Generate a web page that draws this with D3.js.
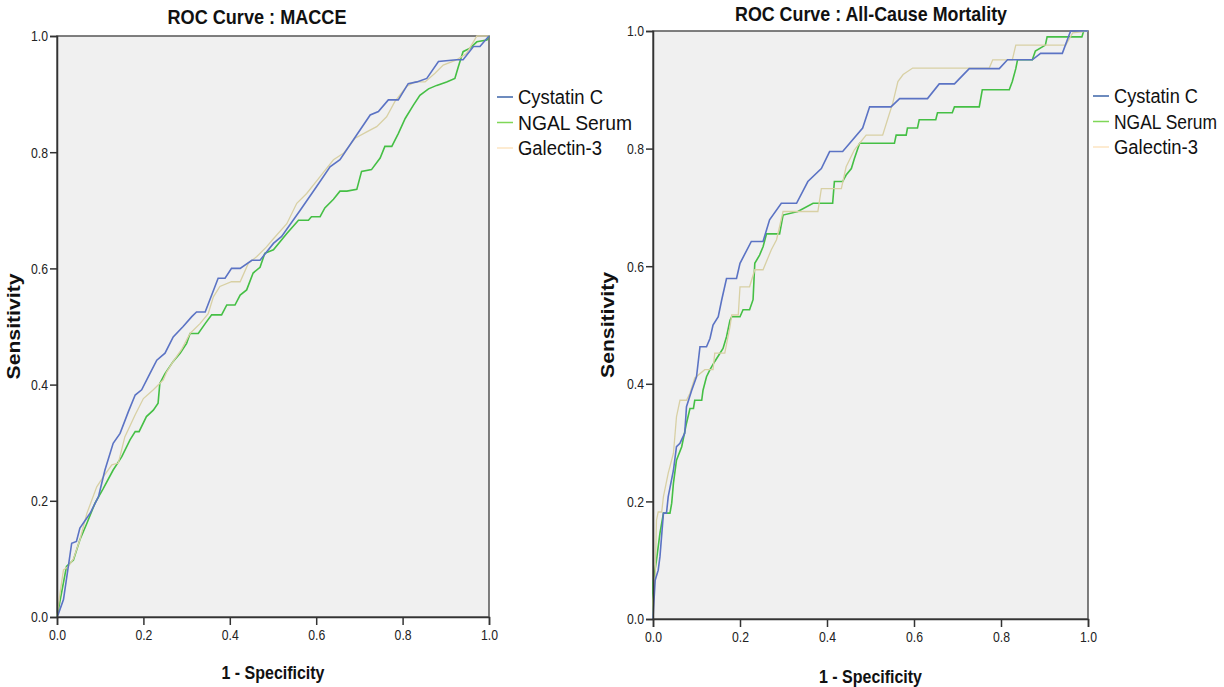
<!DOCTYPE html>
<html lang="en">
<head>
    <meta charset="UTF-8">
    <title>ROC Curves</title>
    <script src="https://d3js.org/d3.v7.min.js"></script>
    <style>
        body {
            margin: 0;
            background-color: #fff;
        }
        svg text {
            font-family: "Liberation Sans Narrow", "Arial Narrow", "Liberation Sans", Arial, sans-serif;
            fill: #111;
        }
        .tick text {
            font-size: 15px;
            fill: #222;
        }
        .tick line, .domain {
            stroke: #333;
            stroke-width: 1.5px;
        }
        .title, .axis-label {
            font-weight: bold;
        }
    </style>
</head>
<body>
<svg id="chart" width="1224" height="687"></svg>
<script>
// series names + colours
const seriesNames = ["Cystatin C", "NGAL  Serum", "Galectin-3"];
const lineColors = ["#5b73c4", "#45bf45", "#d8d0a4"];
const legendColors = ["#3c64a8", "#7fd757", "#fde4c2"];
const tickValues = [0, 0.2, 0.4, 0.6, 0.8, 1.0];

// ROC points [1 - specificity, sensitivity]
const macceCystatin = [[0,0],[0.003,0.005],[0.015,0.03],[0.034,0.127],[0.045,0.13],[0.053,0.153],[0.077,0.179],
    [0.096,0.207],[0.111,0.253],[0.13,0.299],[0.146,0.316],[0.165,0.353],[0.181,0.382],[0.196,0.391],[0.215,0.419],
    [0.231,0.442],[0.25,0.454],[0.269,0.482],[0.292,0.5],[0.312,0.517],[0.323,0.525],[0.343,0.525],[0.373,0.583],
    [0.389,0.583],[0.404,0.6],[0.424,0.6],[0.451,0.614],[0.47,0.614],[0.501,0.643],[0.52,0.655],[0.563,0.7],
    [0.601,0.741],[0.632,0.775],[0.655,0.787],[0.694,0.83],[0.725,0.864],[0.744,0.87],[0.767,0.89],[0.79,0.89],
    [0.813,0.918],[0.833,0.921],[0.856,0.927],[0.883,0.956],[0.925,0.959],[0.94,0.959],[0.964,0.982],[0.979,0.982],[1,1]];
const macceNgal = [[0,0],[0.022,0.087],[0.038,0.098],[0.053,0.133],[0.069,0.161],[0.088,0.196],[0.107,0.221],
    [0.13,0.253],[0.15,0.276],[0.169,0.305],[0.181,0.319],[0.19,0.319],[0.207,0.345],[0.223,0.356],[0.234,0.368],
    [0.238,0.402],[0.25,0.419],[0.269,0.44],[0.285,0.454],[0.3,0.471],[0.308,0.488],[0.327,0.488],[0.343,0.505],
    [0.358,0.52],[0.381,0.52],[0.393,0.537],[0.412,0.537],[0.424,0.554],[0.439,0.563],[0.454,0.592],[0.47,0.602],
    [0.481,0.626],[0.501,0.632],[0.532,0.66],[0.559,0.683],[0.582,0.683],[0.589,0.689],[0.609,0.689],[0.62,0.704],
    [0.64,0.719],[0.655,0.733],[0.671,0.733],[0.694,0.736],[0.705,0.767],[0.728,0.77],[0.748,0.79],[0.759,0.81],
    [0.775,0.81],[0.79,0.832],[0.806,0.858],[0.825,0.881],[0.84,0.898],[0.86,0.909],[0.879,0.915],[0.902,0.921],
    [0.921,0.927],[0.929,0.947],[0.94,0.973],[0.956,0.979],[0.972,0.99],[0.995,0.993],[1,1]];
const macceGalectin = [[0,0],[0.007,0.041],[0.015,0.081],[0.026,0.087],[0.038,0.1],[0.053,0.133],[0.069,0.178],
    [0.092,0.224],[0.107,0.241],[0.127,0.262],[0.142,0.265],[0.157,0.31],[0.181,0.348],[0.2,0.376],[0.223,0.391],
    [0.246,0.408],[0.254,0.422],[0.269,0.44],[0.288,0.46],[0.308,0.488],[0.331,0.505],[0.35,0.522],[0.362,0.551],
    [0.377,0.569],[0.404,0.577],[0.424,0.577],[0.443,0.609],[0.462,0.62],[0.485,0.637],[0.501,0.651],[0.532,0.677],
    [0.555,0.712],[0.578,0.729],[0.609,0.758],[0.64,0.787],[0.663,0.798],[0.69,0.824],[0.717,0.835],[0.74,0.844],
    [0.763,0.861],[0.782,0.887],[0.809,0.913],[0.829,0.921],[0.852,0.921],[0.875,0.936],[0.894,0.95],[0.925,0.959],
    [0.948,0.97],[0.972,1],[1,1]];

const mortCystatin = [[0,0],[0.001,0.015],[0.005,0.066],[0.012,0.083],[0.016,0.106],[0.024,0.18],[0.031,0.18],
    [0.035,0.208],[0.047,0.253],[0.054,0.293],[0.062,0.299],[0.073,0.316],[0.077,0.361],[0.089,0.389],[0.1,0.412],
    [0.108,0.463],[0.123,0.463],[0.131,0.477],[0.138,0.5],[0.15,0.514],[0.158,0.543],[0.169,0.579],[0.192,0.579],
    [0.2,0.605],[0.226,0.642],[0.253,0.642],[0.268,0.679],[0.295,0.707],[0.33,0.707],[0.356,0.744],[0.387,0.766],
    [0.406,0.795],[0.436,0.795],[0.482,0.835],[0.498,0.871],[0.547,0.871],[0.567,0.885],[0.631,0.885],[0.658,0.91],
    [0.693,0.91],[0.727,0.936],[0.796,0.936],[0.815,0.951],[0.872,0.951],[0.891,0.962],[0.941,0.962],[0.96,1],[1,1]];
const mortNgal = [[0,0],[0,0.061],[0.008,0.1],[0.016,0.146],[0.024,0.18],[0.039,0.18],[0.043,0.197],[0.047,0.231],
    [0.054,0.27],[0.066,0.293],[0.077,0.333],[0.085,0.358],[0.093,0.358],[0.096,0.372],[0.112,0.372],[0.115,0.389],
    [0.123,0.412],[0.131,0.424],[0.142,0.438],[0.154,0.452],[0.161,0.46],[0.169,0.48],[0.177,0.508],[0.181,0.514],
    [0.2,0.514],[0.207,0.526],[0.222,0.526],[0.23,0.543],[0.234,0.605],[0.245,0.619],[0.253,0.633],[0.261,0.655],
    [0.291,0.655],[0.299,0.687],[0.333,0.693],[0.368,0.707],[0.413,0.707],[0.417,0.744],[0.436,0.744],[0.444,0.755],
    [0.456,0.766],[0.463,0.783],[0.475,0.809],[0.555,0.809],[0.559,0.823],[0.582,0.823],[0.585,0.835],[0.608,0.835],
    [0.612,0.849],[0.65,0.849],[0.654,0.861],[0.688,0.861],[0.693,0.871],[0.75,0.871],[0.757,0.9],[0.819,0.9],
    [0.826,0.914],[0.834,0.936],[0.838,0.951],[0.872,0.951],[0.879,0.966],[0.902,0.976],[0.906,0.99],[0.986,0.99],
    [0.99,1],[1,1]];
const mortGalectin = [[0,0],[0,0.032],[0.005,0.072],[0.008,0.168],[0.012,0.182],[0.02,0.182],[0.024,0.208],
    [0.035,0.248],[0.047,0.282],[0.054,0.344],[0.062,0.372],[0.077,0.372],[0.085,0.384],[0.096,0.41],[0.119,0.424],
    [0.138,0.424],[0.142,0.452],[0.165,0.452],[0.177,0.497],[0.181,0.517],[0.196,0.517],[0.2,0.565],[0.222,0.565],
    [0.234,0.594],[0.253,0.594],[0.272,0.628],[0.284,0.645],[0.299,0.693],[0.379,0.693],[0.387,0.732],[0.433,0.732],
    [0.444,0.769],[0.463,0.798],[0.49,0.823],[0.528,0.823],[0.539,0.849],[0.551,0.877],[0.563,0.914],[0.575,0.926],
    [0.597,0.937],[0.773,0.937],[0.781,0.951],[0.826,0.951],[0.834,0.976],[0.949,0.976],[0.965,0.997],[1,1]];

const svg = d3.select("#chart");

const panels = [
    { title: "ROC Curve : MACCE", titleW: 179, series: [macceCystatin, macceNgal, macceGalectin],
      left: 57, right: 489, top: 36, bottom: 617, titleX: 257, titleY: 24,
      xLabelY: 679, yLabelX: 20, legendX: 497, legendY: 97, legendW: [85, 114, 84] },
    { title: "ROC Curve : All-Cause Mortality", titleW: 272, series: [mortCystatin, mortNgal, mortGalectin],
      left: 653, right: 1088, top: 31, bottom: 619, titleX: 871, titleY: 21,
      xLabelY: 683, yLabelX: 614, legendX: 1093, legendY: 96, legendW: [84, 103, 84] }
];

// squeeze text to a given width (the original uses a condensed face)
function squeeze(sel, w) {
    sel.attr("textLength", w).attr("lengthAdjust", "spacingAndGlyphs");
}

panels.forEach(p => {
    const x = d3.scaleLinear().domain([0, 1]).range([p.left, p.right]);
    const y = d3.scaleLinear().domain([0, 1]).range([p.bottom, p.top]);
    const g = svg.append("g");

    // plot background
    g.append("rect")
        .attr("x", p.left).attr("y", p.top)
        .attr("width", p.right - p.left).attr("height", p.bottom - p.top)
        .attr("fill", "#f0f0f0")
        .attr("stroke", "#555").attr("stroke-width", 1.5);

    const line = d3.line().x(d => x(d[0])).y(d => y(d[1]));

    // draw green first, then galectin, then blue on top
    [1, 2, 0].forEach(i => {
        g.append("path")
            .datum(p.series[i])
            .attr("fill", "none")
            .attr("stroke", lineColors[i])
            .attr("stroke-width", i === 2 ? 1.3 : 1.6)
            .attr("d", line);
    });

    const xAxis = g.append("g")
        .attr("transform", `translate(0,${p.bottom})`)
        .call(d3.axisBottom(x).tickValues(tickValues).tickFormat(d3.format(".1f")).tickSize(8).tickPadding(4));
    const yAxis = g.append("g")
        .attr("transform", `translate(${p.left},0)`)
        .call(d3.axisLeft(y).tickValues(tickValues).tickFormat(d3.format(".1f")).tickSize(7).tickPadding(2));
    xAxis.selectAll(".tick text").call(squeeze, 17);
    yAxis.selectAll(".tick text").call(squeeze, 17);

    g.append("text").attr("class", "title")
        .attr("x", p.titleX).attr("y", p.titleY)
        .attr("text-anchor", "middle").attr("font-size", 21)
        .text(p.title)
        .call(squeeze, p.titleW);

    g.append("text").attr("class", "axis-label")
        .attr("x", (p.left + p.right) / 2).attr("y", p.xLabelY)
        .attr("text-anchor", "middle").attr("font-size", 18)
        .text("1 - Specificity")
        .call(squeeze, 103);

    g.append("text").attr("class", "axis-label")
        .attr("transform", `translate(${p.yLabelX},${(p.top + p.bottom) / 2}) rotate(-90)`)
        .attr("text-anchor", "middle").attr("font-size", 18)
        .text("Sensitivity")
        .call(squeeze, 106);

    // legend
    seriesNames.forEach((name, i) => {
        const ly = p.legendY + i * 25.5;
        g.append("line")
            .attr("x1", p.legendX).attr("x2", p.legendX + 16)
            .attr("y1", ly).attr("y2", ly)
            .attr("stroke", legendColors[i]).attr("stroke-width", 1.5);
        g.append("text")
            .attr("x", p.legendX + 21).attr("y", ly + 7)
            .attr("font-size", 20)
            .text(name)
            .call(squeeze, p.legendW[i]);
    });
});
</script>
</body>
</html>
